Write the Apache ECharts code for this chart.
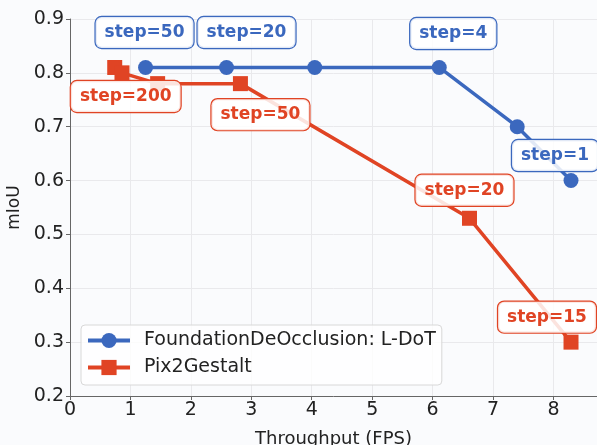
<!DOCTYPE html>
<html>
<head>
<meta charset="utf-8">
<script src="https://cdn.jsdelivr.net/npm/echarts@6/dist/echarts.min.js"></script>
<style>
html,body{margin:0;padding:0;background:#fafbfd;}
#c{width:597px;height:445px;}
</style>
</head>
<body>
<div id="c"></div>
<script>
// ---- data ----
const seriesNames = ['FoundationDeOcclusion: L-DoT', 'Pix2Gestalt'];
const blueX = [1.25, 2.59, 4.05, 6.11, 7.40, 8.29];
const blueY = [0.81, 0.81, 0.81, 0.81, 0.70, 0.60];
const blueSteps = ['step=50', 'step=20', '', 'step=4', '', 'step=1'];
const redX = [0.74, 0.86, 1.45, 2.82, 6.61, 8.29];
const redY = [0.81, 0.80, 0.78, 0.78, 0.53, 0.30];
const redSteps = ['step=200', '', '', 'step=50', 'step=20', 'step=15'];
const xTicks = [0, 1, 2, 3, 4, 5, 6, 7, 8];
const yTicks = [0.2, 0.3, 0.4, 0.5, 0.6, 0.7, 0.8, 0.9];

// ---- styling (label placement relative to point, in px) ----
const blueOffsets = [[-1, -35], [20, -35], [0, 0], [14, -34], [0, 0], [-16, -25]];
const redOffsets = [[11, 29], [0, 0], [0, 0], [20, 31], [-5, -28], [-24, -25]];
const BLUE = '#3b68be';
const RED = '#e04424';
const FONT = 'DejaVu Sans';

function buildData(xs, ys, steps, offsets, color) {
  return xs.map((x, i) => {
    const item = { value: [x, ys[i]] };
    if (steps[i]) {
      item.label = {
        show: true,
        formatter: steps[i],
        position: 'inside',
        offset: offsets[i],
        color: color,
        fontFamily: FONT,
        fontWeight: 'bold',
        fontSize: 17,
        lineHeight: 18,
        backgroundColor: 'rgba(255,255,255,0.85)',
        borderColor: color,
        borderWidth: 1.2,
        borderRadius: 6,
        padding: [7, 9, 6, 9]
      };
    }
    return item;
  });
}

const chart = echarts.init(document.getElementById('c'), null, { renderer: 'canvas' });
chart.setOption({
  backgroundColor: '#fafbfd',
  animation: false,
  grid: { left: 70, top: 19, right: 0, bottom: 49, containLabel: false, outerBoundsMode: 'none' },
  legend: {
    left: 81, top: 325, orient: 'vertical',
    data: seriesNames,
    itemWidth: 42, itemHeight: 19, itemGap: 8,
    padding: [6, 6, 8, 5],
    backgroundColor: 'rgba(255,255,255,0.8)',
    borderColor: '#d8d8d8', borderWidth: 1, borderRadius: 4,
    lineStyle: { width: 4 },
    textStyle: { fontFamily: FONT, fontSize: 19, lineHeight: 19, color: '#222', padding: [0, 0, 0, 9] }
  },
  xAxis: {
    type: 'value', min: xTicks[0], max: 8.72, interval: 1,
    name: 'Throughput (FPS)', nameLocation: 'middle', nameGap: 34,
    nameTextStyle: { fontFamily: FONT, fontSize: 18, color: '#222' },
    axisLine: { show: true, lineStyle: { color: '#666', width: 1 } },
    axisTick: { show: true, length: 4, lineStyle: { color: '#666' } },
    axisLabel: { fontFamily: FONT, fontSize: 19, color: '#222', margin: 5, showMaxLabel: false,
      formatter: v => (xTicks.indexOf(v) >= 0 ? String(v) : '') },
    splitLine: { show: true, lineStyle: { color: '#e9e9ec', width: 1 } }
  },
  yAxis: {
    type: 'value', min: yTicks[0], max: yTicks[yTicks.length - 1], interval: 0.1,
    name: 'mIoU', nameLocation: 'middle', nameGap: 37,
    nameTextStyle: { fontFamily: FONT, fontSize: 17, color: '#222' },
    axisLine: { show: true, lineStyle: { color: '#666', width: 1 } },
    axisTick: { show: true, length: 4, lineStyle: { color: '#666' } },
    axisLabel: { fontFamily: FONT, fontSize: 19, color: '#222', margin: 6,
      formatter: v => v.toFixed(1) },
    splitLine: { show: true, lineStyle: { color: '#e9e9ec', width: 1 } }
  },
  series: [
    {
      name: seriesNames[0], type: 'line',
      data: buildData(blueX, blueY, blueSteps, blueOffsets, BLUE),
      symbol: 'circle', symbolSize: 15,
      lineStyle: { color: BLUE, width: 3.5 },
      itemStyle: { color: BLUE },
      z: 2
    },
    {
      name: seriesNames[1], type: 'line',
      data: buildData(redX, redY, redSteps, redOffsets, RED),
      symbol: 'rect', symbolSize: 15,
      lineStyle: { color: RED, width: 3.5 },
      itemStyle: { color: RED },
      z: 3
    }
  ]
});
</script>
</body>
</html>
